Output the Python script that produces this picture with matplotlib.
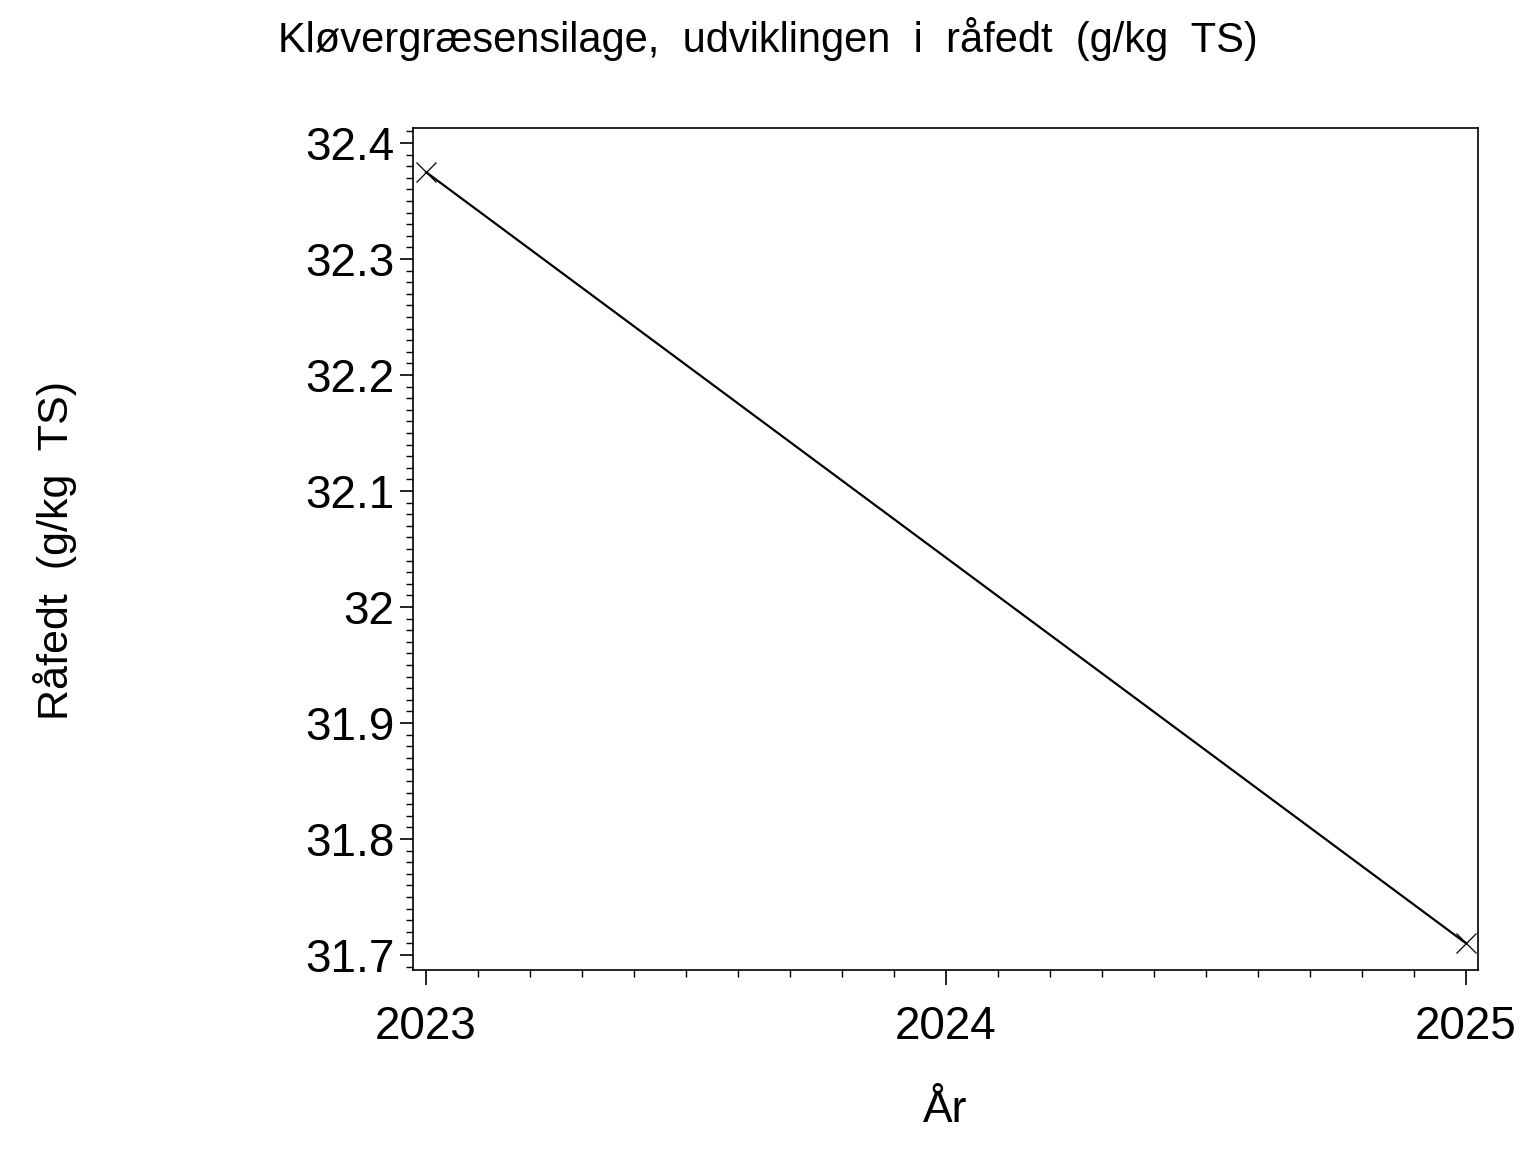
import matplotlib
matplotlib.use("Agg")
import matplotlib.pyplot as plt
from matplotlib.ticker import MultipleLocator, FixedLocator

plt.rcParams["font.family"] = ["Liberation Sans", "DejaVu Sans"]

years = [2023, 2025]
raafedt = [32.375, 31.71]
yticks = [31.7, 31.8, 31.9, 32.0, 32.1, 32.2, 32.3, 32.4]
ytick_labels = ["31.7", "31.8", "31.9", "32", "32.1", "32.2", "32.3", "32.4"]
xticks = [2023, 2024, 2025]

fig = plt.figure(figsize=(15.36, 11.52), dpi=100)
ax = fig.add_axes([413 / 1536, 1 - 970 / 1152, (1478 - 413) / 1536, (970 - 128) / 1152])

ax.plot(years, raafedt, color="black", lw=1.6, marker="x", markersize=14,
        markeredgewidth=0.9)

ax.set_xlim(2022.975, 2025.023)
ax.set_ylim(31.687, 32.413)
ax.xaxis.set_major_locator(FixedLocator(xticks))
ax.xaxis.set_minor_locator(MultipleLocator(0.1))
ax.set_xticklabels([str(x) for x in xticks])
ax.yaxis.set_major_locator(FixedLocator(yticks))
ax.yaxis.set_minor_locator(MultipleLocator(0.01))
ax.set_yticklabels(ytick_labels)

ax.tick_params(which="major", width=1.2, labelsize=33, direction="out")
ax.tick_params(which="minor", length=5, width=1.0, direction="out")
ax.tick_params(axis="y", which="major", length=9.5, pad=4)
ax.tick_params(axis="x", which="major", length=11, pad=14)
for s in ax.spines.values():
    s.set_linewidth(1.2)

fig.text(0.5, 0.966, "Kløvergræsensilage,  udviklingen  i  råfedt  (g/kg  TS)",
         ha="center", va="center", fontsize=30)
fig.text(945 / 1536, 1 - 1110 / 1152, "År", ha="center", va="center", fontsize=32)
fig.text(55 / 1536, 1 - 550 / 1152, "Råfedt  (g/kg  TS)", ha="center", va="center",
         fontsize=31, rotation=90)

fig.savefig("out.png", dpi=100)
